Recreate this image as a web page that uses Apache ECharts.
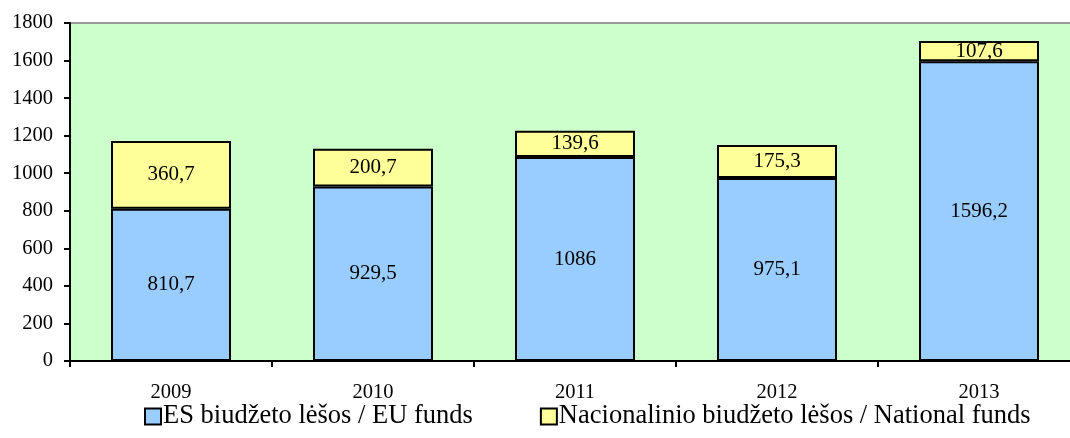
<!DOCTYPE html>
<html><head><meta charset="utf-8">
<script src="https://cdn.jsdelivr.net/npm/echarts@6/dist/echarts.min.js"></script>
<style>html,body{margin:0;padding:0;background:#fff}#c{width:1070px;height:438px}</style>
</head><body><div id="c"></div>
<script>
const categories = ['2009','2010','2011','2012','2013'];
const euFunds = [810.7, 929.5, 1086, 975.1, 1596.2];
const nationalFunds = [360.7, 200.7, 139.6, 175.3, 107.6];
const seriesNames = ['ES biudžeto lėšos / EU funds', 'Nacionalinio biudžeto lėšos / National funds'];
const yTicks = {min: 0, max: 1800, interval: 200};

const font = '"Liberation Serif", "Times New Roman", serif';
const fmt = p => String(p.value).replace('.', ',');
const chart = echarts.init(document.getElementById('c'), null, {renderer: 'canvas'});
chart.setOption({
  animation: false,
  textStyle: {fontFamily: font},
  grid: {left: 70, top: 23, width: 1010, bottom: 77, outerBoundsMode: 'none', containLabel: false,
         show: true, backgroundColor: '#ccffcc', borderColor: '#999', borderWidth: 2},
  legend: {
    left: 139, top: 398, itemWidth: 16, itemHeight: 16, itemGap: 67, icon: 'rect',
    textStyle: {fontFamily: font, fontSize: 26.5, color: '#000', padding: [0,0,0,-3]},
    itemStyle: {borderColor: '#000', borderWidth: 2},
    data: seriesNames
  },
  xAxis: {
    type: 'category', data: categories,
    axisLine: {lineStyle: {color: '#000', width: 2}},
    axisTick: {show: true, length: 6, lineStyle: {color: '#000', width: 2}},
    axisLabel: {fontFamily: font, fontSize: 20.5, color: '#000', margin: 21}
  },
  yAxis: {
    type: 'value', min: yTicks.min, max: yTicks.max, interval: yTicks.interval,
    axisLine: {show: true, lineStyle: {color: '#000', width: 2}},
    axisTick: {show: true, length: 6, lineStyle: {color: '#000', width: 2}},
    splitLine: {show: false},
    axisLabel: {fontFamily: font, fontSize: 20.5, color: '#000', margin: 17, formatter: v => String(v)}
  },
  series: [
    {name: seriesNames[0], type: 'bar', stack: 's', data: euFunds, barWidth: '59.4%',
     itemStyle: {color: '#99ccff', borderColor: '#000', borderWidth: 2},
     label: {show: true, position: 'inside', formatter: fmt, fontFamily: font, fontSize: 21, color: '#000'}},
    {name: seriesNames[1], type: 'bar', stack: 's', data: nationalFunds, barWidth: '59.4%',
     itemStyle: {color: '#ffff99', borderColor: '#000', borderWidth: 2},
     label: {show: true, position: 'inside', formatter: fmt, fontFamily: font, fontSize: 21, color: '#000'}}
  ]
});
</script></body></html>
